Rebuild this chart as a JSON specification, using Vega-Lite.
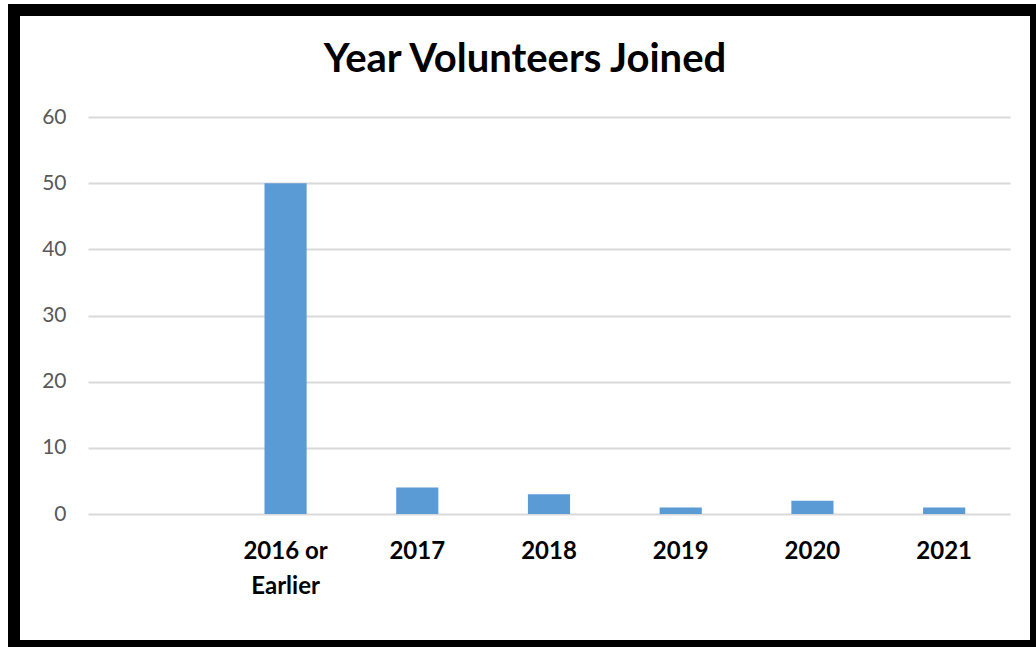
{
  "$schema": "https://vega.github.io/schema/vega-lite/v6.json",
  "width": 1022,
  "height": 636,
  "autosize": {"type": "none"},
  "padding": {"left": 14, "top": 10, "right": 0, "bottom": 1},
  "background": "white",
  "title": {
    "text": "Year Volunteers Joined",
    "anchor": "middle",
    "frame": "group",
    "orient": "top",
    "baseline": "top",
    "offset": -70,
    "font": "Lato",
    "fontSize": 40,
    "fontWeight": "bold",
    "color": "#000000"
  },
  "data": {
    "values": [
      {"year": "2016 or Earlier", "count": 50},
      {"year": "2017", "count": 4},
      {"year": "2018", "count": 3},
      {"year": "2019", "count": 1},
      {"year": "2020", "count": 2},
      {"year": "2021", "count": 1}
    ]
  },
  "mark": {"type": "bar", "color": "#5B9BD5"},
  "encoding": {
    "x": {
      "field": "year",
      "type": "nominal",
      "sort": null,
      "scale": {
        "domain": ["", "2016 or Earlier", "2017", "2018", "2019", "2020", "2021"],
        "range": [74, 996],
        "paddingInner": 0.68,
        "paddingOuter": 0.34
      },
      "axis": {
        "title": null,
        "offset": -132,
        "domain": false,
        "ticks": false,
        "tickSize": 0,
        "grid": false,
        "labelAngle": 0,
        "labelBaseline": "top",
        "labelPadding": 25,
        "labelFont": "Lato",
        "labelFontSize": 24,
        "labelFontWeight": "bold",
        "labelColor": "#000000",
        "labelLineHeight": 35,
        "labelExpr": "datum.value == '2016 or Earlier' ? ['2016 or', 'Earlier'] : datum.value"
      }
    },
    "y": {
      "field": "count",
      "type": "quantitative",
      "scale": {"domain": [0, 60], "range": [504, 107], "nice": false, "zero": true},
      "axis": {
        "title": null,
        "offset": -74,
        "domain": false,
        "ticks": false,
        "tickSize": 0,
        "values": [0, 10, 20, 30, 40, 50, 60],
        "grid": true,
        "gridColor": "#D9D9D9",
        "gridWidth": 2,
        "labelPadding": 22,
        "labelFont": "Lato",
        "labelFontSize": 21,
        "labelColor": "#595959"
      }
    }
  },
  "config": {
    "view": {"stroke": "#000000", "strokeWidth": 12, "fill": "white"}
  }
}
